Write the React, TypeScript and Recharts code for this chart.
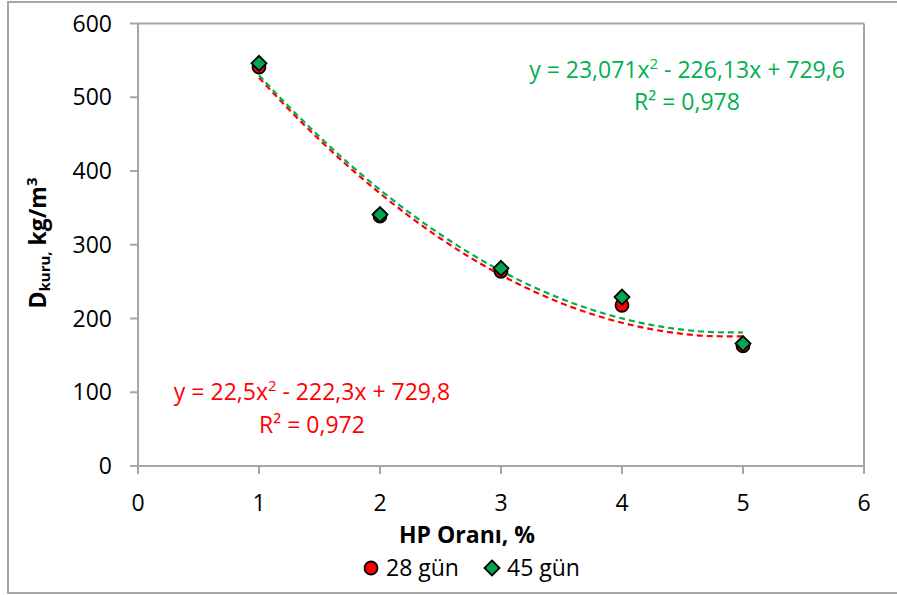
import React from 'react';
import { ComposedChart, XAxis, YAxis, Scatter, Line, ReferenceLine } from 'recharts';

const FONT = "'Open Sans', 'DejaVu Sans', sans-serif";

const hpRatio = [1, 2, 3, 4, 5];
const dry28 = [541, 339, 264, 218, 163];
const dry45 = [546, 341, 268, 229, 166];
const xTicks = [0, 1, 2, 3, 4, 5, 6];
const yTicks = [0, 100, 200, 300, 400, 500, 600];
const trendX = [1, 1.25, 1.5, 1.75, 2, 2.25, 2.5, 2.75, 3, 3.25, 3.5, 3.75, 4, 4.25, 4.5, 4.75, 5];

const pts28 = hpRatio.map((x, i) => ({ x, y: dry28[i] }));
const pts45 = hpRatio.map((x, i) => ({ x, y: dry45[i] }));

// least-squares 2nd order polynomial trendline (as the spreadsheet does)
function quadFit(xs: number[], ys: number[]) {
  const n = xs.length;
  const mx = xs.reduce((s, v) => s + v, 0) / n;
  const t = xs.map((v) => v - mx);
  const s2 = t.reduce((s, v) => s + v * v, 0);
  const s4 = t.reduce((s, v) => s + v ** 4, 0);
  const sy = ys.reduce((s, v) => s + v, 0);
  const sty = t.reduce((s, v, i) => s + v * ys[i], 0);
  const st2y = t.reduce((s, v, i) => s + v * v * ys[i], 0);
  const b = sty / s2;
  const c = (st2y - (s2 * sy) / n) / (s4 - (s2 * s2) / n);
  const a = (sy - c * s2) / n;
  return (x: number) => a + b * (x - mx) + c * (x - mx) ** 2;
}
const f28 = quadFit(hpRatio, dry28);
const f45 = quadFit(hpRatio, dry45);
const trend28 = trendX.map((x) => ({ x, y: f28(x) }));
const trend45 = trendX.map((x) => ({ x, y: f45(x) }));

const RED = '#FF0000';
const GREEN = '#00B050';
const MARK_GREEN = '#00A651';
const AXIS = '#A6A6A6';
const FS = 23;

const Circle = (p: any) => (
  <circle cx={p.cx} cy={p.cy} r={6.5} fill={RED} stroke="#000" strokeWidth={1.8} />
);
const Diamond = (p: any) => {
  const s = 7.5;
  return (
    <polygon
      points={`${p.cx},${p.cy - s} ${p.cx + s},${p.cy} ${p.cx},${p.cy + s} ${p.cx - s},${p.cy}`}
      fill={MARK_GREEN}
      stroke="#000"
      strokeWidth={1.8}
    />
  );
};

const tickStyle = { fill: '#000', fontSize: FS, fontFamily: FONT };

export default function App() {
  return (
    <div style={{ position: 'absolute', left: 0, top: 0, width: 897, height: 595, background: '#fff', overflow: 'hidden', fontFamily: FONT }}>
      <div style={{ position: 'absolute', left: 7, top: 1, width: 920, height: 593, border: `2px solid ${AXIS}`, boxSizing: 'border-box' }} />
      <div style={{ position: 'absolute', left: 0, top: 0 }}>
        <ComposedChart width={897} height={595} margin={{ top: 23.5, right: 33, left: 78, bottom: 89 }}>
          <XAxis
            type="number"
            dataKey="x"
            domain={[0, 6]}
            ticks={xTicks}
            interval={0}
            height={40}
            tickSize={8}
            tickMargin={21}
            axisLine={{ stroke: AXIS, strokeWidth: 2 }}
            tickLine={{ stroke: AXIS, strokeWidth: 2 }}
            tick={tickStyle}
          />
          <YAxis
            type="number"
            domain={[0, 600]}
            ticks={yTicks}
            interval={0}
            width={60}
            tickSize={8}
            tickMargin={18}
            axisLine={{ stroke: AXIS, strokeWidth: 2 }}
            tickLine={{ stroke: AXIS, strokeWidth: 2 }}
            tick={tickStyle}
          />
          <ReferenceLine y={600} stroke={AXIS} strokeWidth={2} />
          <ReferenceLine x={6} stroke={AXIS} strokeWidth={2} />
          <Line data={trend28} dataKey="y" type="monotone" stroke={RED} strokeWidth={2.2} strokeDasharray="6 4" dot={false} activeDot={false} isAnimationActive={false} legendType="none" />
          <Line data={trend45} dataKey="y" type="monotone" stroke={GREEN} strokeWidth={2.2} strokeDasharray="6 4" dot={false} activeDot={false} isAnimationActive={false} legendType="none" />
          <Scatter data={pts28} dataKey="y" name="28 gün" shape={Circle} isAnimationActive={false} />
          <Scatter data={pts45} dataKey="y" name="45 gün" shape={Diamond} isAnimationActive={false} />
        </ComposedChart>
      </div>
      <svg width={897} height={595} style={{ position: 'absolute', left: 0, top: 0, pointerEvents: 'none' }} fontFamily={FONT}>
        {/* y axis title */}
        <text transform="translate(46,243) rotate(-90)" textAnchor="middle" fontSize={FS} fontWeight="bold" fill="#000">
          <tspan>D</tspan>
          <tspan fontSize={15} dy={4}>kuru,</tspan>
          <tspan dy={-4}> kg/m</tspan>
          <tspan fontSize={15} dy={-9}>3</tspan>
        </text>
        {/* x axis title */}
        <text x={467} y={543} textAnchor="middle" fontSize={FS} fontWeight="bold" fill="#000">HP Oranı, %</text>
        {/* green equation */}
        <text x={687} y={78} textAnchor="middle" fontSize={FS} fill={GREEN}>
          <tspan>y = 23,071x</tspan>
          <tspan fontSize={15} dy={-9}>2</tspan>
          <tspan dy={9}> - 226,13x + 729,6</tspan>
        </text>
        <text x={687} y={110} textAnchor="middle" fontSize={FS} fill={GREEN}>R² = 0,978</text>
        {/* red equation */}
        <text x={312} y={400} textAnchor="middle" fontSize={FS} fill={RED}>
          <tspan>y = 22,5x</tspan>
          <tspan fontSize={15} dy={-9}>2</tspan>
          <tspan dy={9}> - 222,3x + 729,8</tspan>
        </text>
        <text x={312} y={433} textAnchor="middle" fontSize={FS} fill={RED}>R² = 0,972</text>
        {/* legend */}
        <circle cx={371} cy={568} r={6.5} fill={RED} stroke="#000" strokeWidth={1.8} />
        <text x={386} y={576} fontSize={FS} fill="#000">28 gün</text>
        <polygon points="492,560.5 499.5,568 492,575.5 484.5,568" fill={MARK_GREEN} stroke="#000" strokeWidth={1.8} />
        <text x={507} y={576} fontSize={FS} fill="#000">45 gün</text>
      </svg>
    </div>
  );
}
